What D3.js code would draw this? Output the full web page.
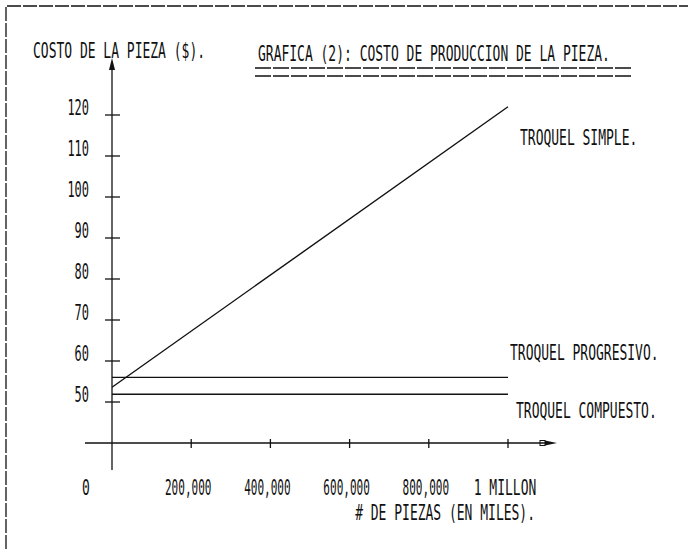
<!DOCTYPE html>
<html>
<head>
<meta charset="utf-8">
<script src="https://cdn.jsdelivr.net/npm/d3@7"></script>
<style>
  html, body { margin: 0; padding: 0; background: #fff; }
  svg { display: block; }
  text { font-family: "DejaVu Sans Mono", "Liberation Mono", monospace; fill: #111; }
</style>
</head>
<body>
<svg id="chart" width="688" height="549"></svg>
<script>
// ---- data ----
const seriesNames = ["TROQUEL SIMPLE.", "TROQUEL PROGRESIVO.", "TROQUEL COMPUESTO."];
const piezas = [0, 1000000];
const simpleCost = [53.6, 122];
const progresivoCost = [56, 56];
const compuestoCost = [51.9, 51.9];
const yTickValues = [50, 60, 70, 80, 90, 100, 110, 120];
const xTickValues = [200000, 400000, 600000, 800000, 1000000];
const xTickLabels = ["200,000", "400,000", "600,000", "800,000", "1 MILLON"];
const titleText = "GRAFICA (2): COSTO DE PRODUCCION DE LA PIEZA.";
const yTitle = "COSTO DE LA PIEZA ($).";
const xTitle = "# DE PIEZAS (EN MILES).";

const svg = d3.select("#chart");
const ink = "#111";

const x = d3.scaleLinear().domain([0, 1000000]).range([112, 508]);
const y = d3.scaleLinear().domain([40, 120]).range([443, 115]);

const SY = 1.6;
function label(txt, px, py, anchor, sx) {
  svg.append("text")
    .attr("transform", `translate(${px},${py}) scale(${sx || 1},${SY})`)
    .attr("font-size", 13)
    .attr("text-anchor", anchor || "start")
    .text(txt);
}

// frame (plotter border, left and top)
svg.append("path")
  .attr("d", "M6,549 L6,6 L688,6")
  .attr("fill", "none").attr("stroke", ink).attr("stroke-width", 1.3)
  .attr("stroke-dasharray", "14 2");

// titles
label(yTitle, 33, 58);
label(titleText, 258, 61);
[68, 76].forEach(yy => {
  svg.append("line").attr("x1", 255).attr("x2", 632).attr("y1", yy).attr("y2", yy)
    .attr("stroke", ink).attr("stroke-width", 1.3).attr("stroke-dasharray", "16 2");
});

// y axis
svg.append("line").attr("x1", x(0)).attr("x2", x(0)).attr("y1", 62).attr("y2", 470)
  .attr("stroke", ink).attr("stroke-width", 1.3);
svg.append("path")
  .attr("d", `M${x(0)},58 L${x(0) - 3},70 L${x(0) + 3},70 Z`)
  .attr("fill", ink);
svg.selectAll(".ytick").data(yTickValues).enter().append("line")
  .attr("x1", x(0) - 7).attr("x2", x(0) + 8)
  .attr("y1", d => y(d)).attr("y2", d => y(d))
  .attr("stroke", ink).attr("stroke-width", 1.3);
yTickValues.forEach(v => label(String(v), 89, y(v), "end", 0.92));

// x axis
svg.append("line").attr("x1", 85).attr("x2", 545).attr("y1", y(40)).attr("y2", y(40))
  .attr("stroke", ink).attr("stroke-width", 1.3);
svg.append("rect").attr("x", 540).attr("y", y(40) - 2.5).attr("width", 5).attr("height", 5)
  .attr("fill", "none").attr("stroke", ink).attr("stroke-width", 1);
svg.append("path")
  .attr("d", `M545,${y(40) - 2.5} L557,${y(40)} L545,${y(40) + 2.5} Z`)
  .attr("fill", ink);
svg.selectAll(".xtick").data(xTickValues).enter().append("line")
  .attr("x1", d => x(d)).attr("x2", d => x(d))
  .attr("y1", y(40) - 4).attr("y2", y(40) + 5)
  .attr("stroke", ink).attr("stroke-width", 1.3);
label("0", 82, 495);
xTickValues.forEach((v, i) => label(xTickLabels[i], x(v) - 3, 495, "middle", i < 4 ? 0.85 : 1.0));
label(xTitle, 535, 520, "end");

// series lines
const line = d3.line().x(d => x(d[0])).y(d => y(d[1]));
[simpleCost, progresivoCost, compuestoCost].forEach(vals => {
  svg.append("path")
    .attr("d", line(piezas.map((p, i) => [p, vals[i]])))
    .attr("fill", "none").attr("stroke", ink).attr("stroke-width", 1.4);
});

// series labels
label(seriesNames[0], 520, 145);
label(seriesNames[1], 510, 360);
label(seriesNames[2], 516, 418);
</script>
</body>
</html>
